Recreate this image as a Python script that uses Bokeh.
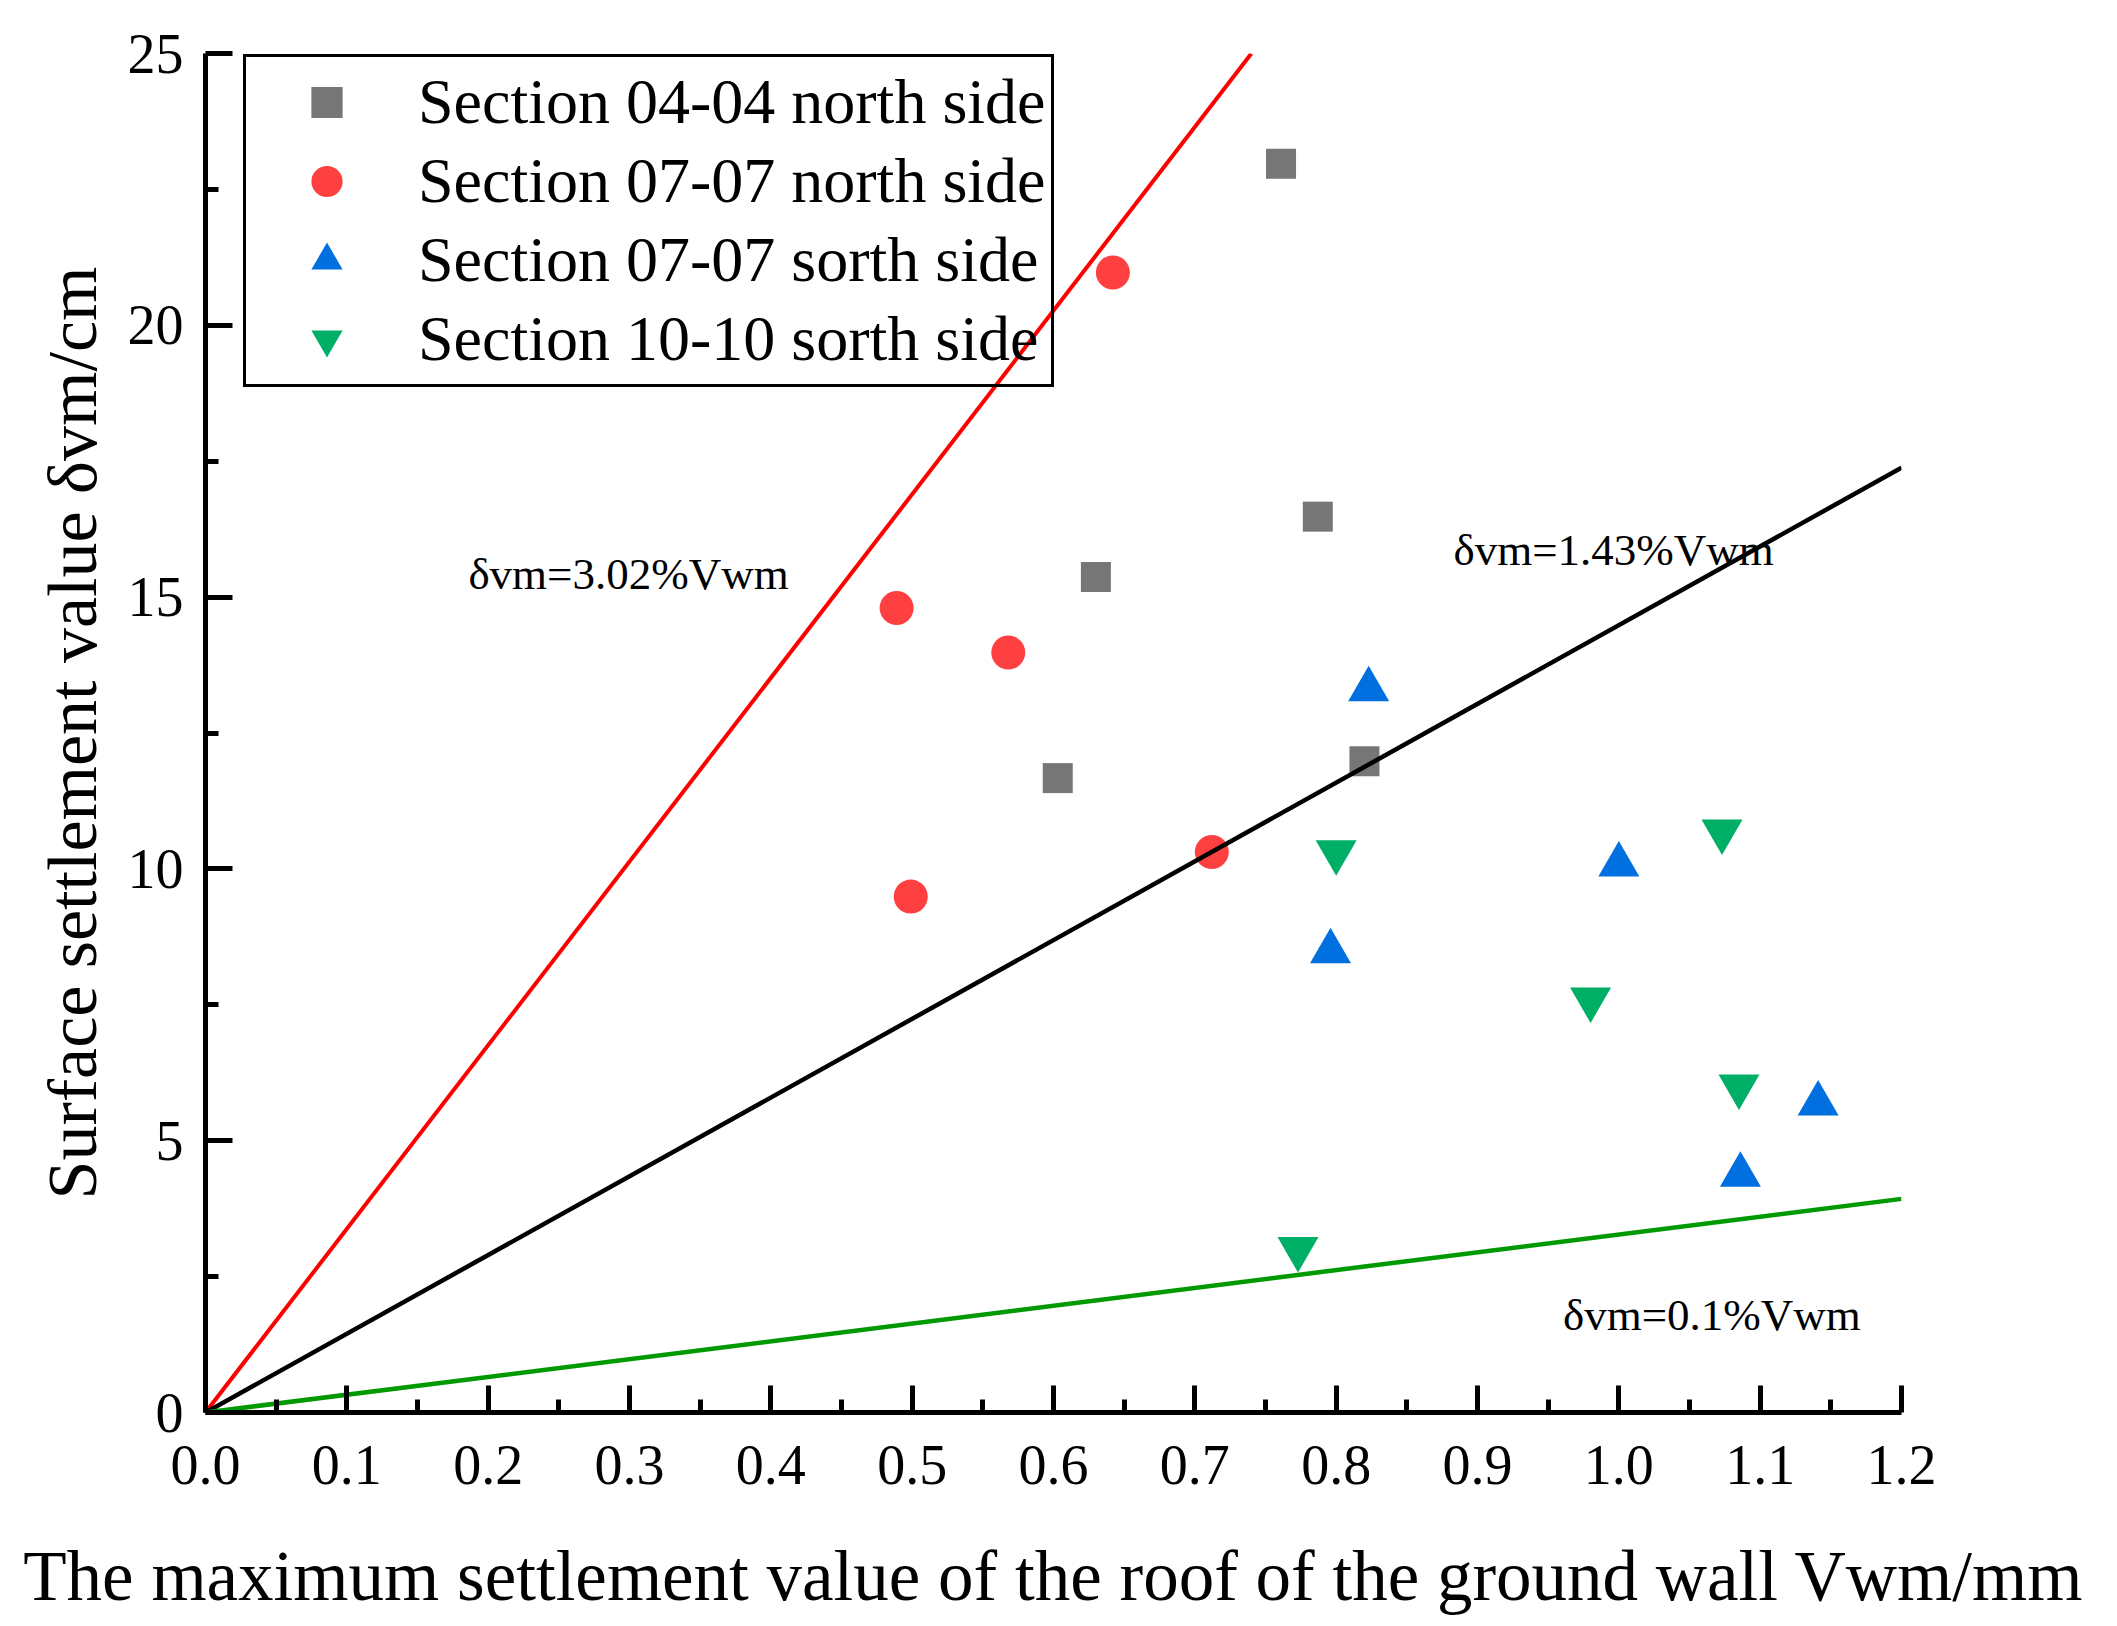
from bokeh.plotting import figure
from bokeh.models import Range1d, FixedTicker, Legend, LegendItem
from bokeh.core.properties import value
from bokeh.embed import file_html
from bokeh.resources import INLINE

FONT = "Liberation Serif"

# ---- axis ticks ----
x_ticks = [0.0, 0.1, 0.2, 0.3, 0.4, 0.5, 0.6, 0.7, 0.8, 0.9, 1.0, 1.1, 1.2]
x_tick_labels = ["0.0", "0.1", "0.2", "0.3", "0.4", "0.5", "0.6", "0.7", "0.8", "0.9", "1.0", "1.1", "1.2"]
x_minor_ticks = [0.05, 0.15, 0.25, 0.35, 0.45, 0.55, 0.65, 0.75, 0.85, 0.95, 1.05, 1.15]
y_ticks = [0, 5, 10, 15, 20, 25]
y_tick_labels = ["0", "5", "10", "15", "20", "25"]
y_minor_ticks = [2.5, 7.5, 12.5, 17.5, 22.5]

# ---- series ----
s0404n_x = [0.761, 0.787, 0.630, 0.603, 0.820]
s0404n_y = [22.97, 16.48, 15.37, 11.67, 11.98]

s0707n_x = [0.642, 0.489, 0.568, 0.499, 0.712]
s0707n_y = [20.97, 14.80, 13.98, 9.49, 10.31]

s0707s_x = [0.823, 1.000, 0.796, 1.141, 1.086]
s0707s_y = [13.30, 10.08, 8.48, 5.68, 4.37]

s1010s_x = [0.800, 1.073, 0.980, 1.085, 0.773]
s1010s_y = [10.31, 10.69, 7.60, 6.00, 3.01]

series_labels = ["Section 04-04 north side", "Section 07-07 north side",
                 "Section 07-07 sorth side", "Section 10-10 sorth side"]

# ---- reference lines (end points) ----
red_x = [0.0, 0.74]
red_y = [0.0, 25.0]
black_x = [0.0, 1.2]
black_y = [0.0, 17.38]
green_x = [0.0, 1.2]
green_y = [0.0, 3.93]

# ---- annotations ----
ann_text = ["δvm=3.02%Vwm", "δvm=1.43%Vwm", "δvm=0.1%Vwm"]
ann_x = [0.186, 0.883, 0.9605]
ann_y = [15.42, 15.87, 1.79]

p = figure(width=2100, height=1618, output_backend="svg", toolbar_location=None,
           x_range=Range1d(0, 1.2), y_range=Range1d(0, 25),
           min_border_left=205, min_border_right=199, min_border_top=53, min_border_bottom=206)
p.outline_line_color = None
p.xgrid.visible = False
p.ygrid.visible = False
p.background_fill_color = "white"
p.border_fill_color = "white"

r0 = p.scatter(s0404n_x, s0404n_y, marker="square", size=30, fill_color="#767676", line_color=None)
r1 = p.scatter(s0707n_x, s0707n_y, marker="circle", size=34, fill_color="#FF4040", line_color=None)
r2 = p.scatter(s0707s_x, s0707s_y, marker="triangle", size=41, fill_color="#0070E0", line_color=None)
r3 = p.scatter(s1010s_x, s1010s_y, marker="inverted_triangle", size=41, fill_color="#00AF66", line_color=None)

p.line(red_x, red_y, line_color="#FF0000", line_width=4)
p.line(black_x, black_y, line_color="black", line_width=4.5)
p.line(green_x, green_y, line_color="#009A00", line_width=4.5)

p.text(x=ann_x, y=ann_y, text=ann_text, text_font=value(FONT), text_font_size="45px",
       text_align="left", text_baseline="middle", text_color="black")

# axes
p.xaxis.ticker = FixedTicker(ticks=x_ticks, minor_ticks=x_minor_ticks)
p.xaxis.major_label_overrides = {t: l for t, l in zip(x_ticks, x_tick_labels)}
p.yaxis.ticker = FixedTicker(ticks=y_ticks, minor_ticks=y_minor_ticks)
p.yaxis.major_label_overrides = {t: l for t, l in zip(y_ticks, y_tick_labels)}

p.xaxis.axis_label = "The maximum settlement value of the roof of the ground wall Vwm/mm"
p.yaxis.axis_label = "Surface settlement value δvm/cm"

for ax in (p.xaxis[0], p.yaxis[0]):
    ax.axis_line_width = 5
    ax.axis_line_color = "black"
    ax.major_tick_line_width = 5
    ax.minor_tick_line_width = 5
    ax.major_tick_line_color = "black"
    ax.minor_tick_line_color = "black"
    ax.major_tick_in = 27
    ax.major_tick_out = 0
    ax.minor_tick_in = 13
    ax.minor_tick_out = 0
    ax.major_label_text_font = FONT
    ax.major_label_text_font_size = "56px"
    ax.major_label_text_color = "black"
    ax.axis_label_text_font = FONT
    ax.axis_label_text_font_style = "normal"
    ax.axis_label_text_color = "black"

p.xaxis.major_label_standoff = 33
p.xaxis.axis_label_standoff = 50
p.xaxis.axis_label_text_font_size = "71px"
p.yaxis.major_label_standoff = 22
p.yaxis.axis_label_standoff = 14
p.yaxis.axis_label_text_font_size = "70px"

legend = Legend(items=[LegendItem(label=series_labels[0], renderers=[r0]),
                       LegendItem(label=series_labels[1], renderers=[r1]),
                       LegendItem(label=series_labels[2], renderers=[r2]),
                       LegendItem(label=series_labels[3], renderers=[r3])],
                location=(38, 1025))
legend.label_text_font = FONT
legend.label_text_font_size = "64px"
legend.label_text_color = "black"
legend.glyph_width = 149
legend.glyph_height = 78
legend.label_standoff = 17
legend.padding = 6
legend.spacing = 1
legend.margin = 0
legend.border_line_color = "black"
legend.border_line_alpha = 1.0
legend.border_line_width = 3
legend.background_fill_alpha = 0
p.add_layout(legend)

open("out.html", "w").write(file_html(p, INLINE))
